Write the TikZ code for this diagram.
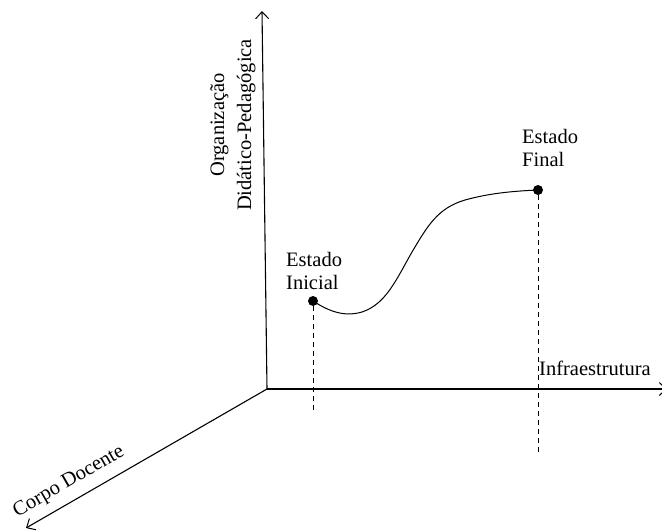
\documentclass[tikz,border=0pt]{standalone}
\usepackage{fontspec}
\setmainfont{Liberation Serif}
\usetikzlibrary{arrows.meta}
\begin{document}
\begin{tikzpicture}[x=1pt,y=-1pt,
  axis/.style={line width=1.1pt,-{Straight Barb[length=7pt,width=13pt,line width=1pt]}},
  guide/.style={line width=1pt,dash pattern=on 5pt off 4pt},
  statedot/.style={circle,fill=black,inner sep=0pt,minimum size=10pt},
  lbl/.style={font=\fontsize{20.5}{23}\selectfont,inner sep=0pt,align=left}]
  \useasboundingbox (0,0) rectangle (662,531);
  % origin and axis ends
  \coordinate (O) at (267,389);
  \coordinate (ytop) at (262,11);
  \coordinate (xend) at (667,389);
  \coordinate (zend) at (26,528);
  \draw[axis] (O) -- (ytop);
  \draw[axis] (O) -- (xend);
  \draw[axis] (O) -- (zend);
  % axis labels
  \node[lbl,rotate=90,align=center,font=\fontsize{20.5}{27}\selectfont] (ylab) at (233,125) {Organização\\Didático-Pedagógica};
  \node[lbl,anchor=west] (xlab) at (539,368) {Infraestrutura};
  \node[lbl,rotate=30] (zlab) at (69,482) {Corpo Docente};
  % states
  \node[statedot] (ini) at (313,301) {};
  \node[statedot] (fin) at (538,190) {};
  \node[lbl,anchor=west] (inilab) at (286,271) {Estado\\Inicial};
  \node[lbl,anchor=west] (finlab) at (522,148) {Estado\\Final};
  % projections onto the floor
  \coordinate (inifoot) at (313,412);
  \coordinate (finfoot) at (538,452);
  \draw[guide] (ini) -- (inifoot);
  \draw[guide] (fin) -- (finfoot);
  % trajectory
  \draw[line width=1pt] (ini.center) .. controls (330,312) and (345,317) .. (362,312)
    .. controls (386,304) and (396,280) .. (412,252)
    .. controls (428,225) and (438,208) .. (465,200)
    .. controls (490,193) and (515,191) .. (fin.center);
\end{tikzpicture}
\end{document}
